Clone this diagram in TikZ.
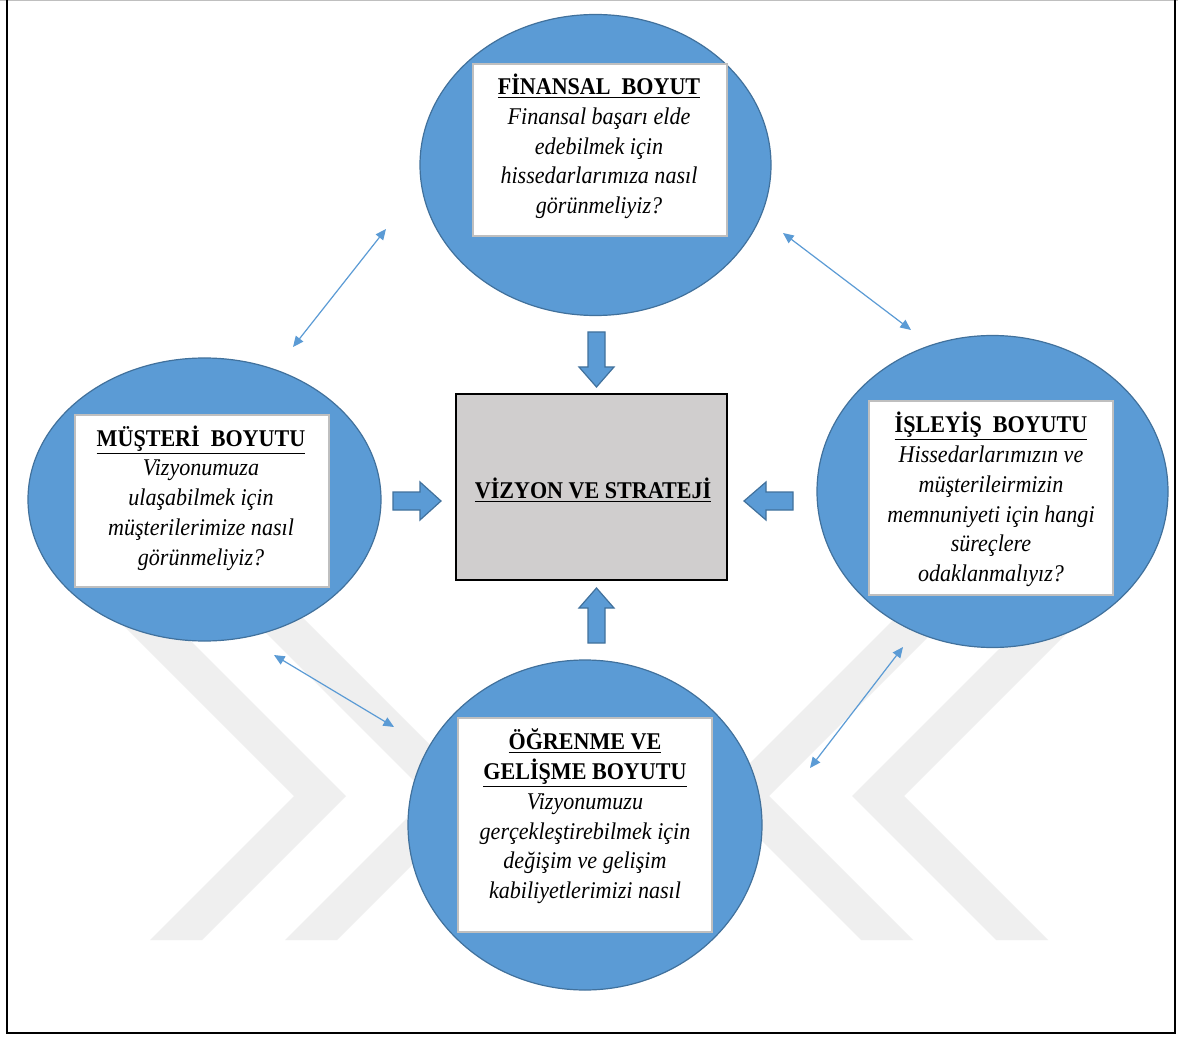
\documentclass[tikz,border=0pt]{standalone}
\usepackage{fontspec}
\setmainfont{Liberation Serif}[FakeStretch=0.92]
\usetikzlibrary{arrows.meta,shapes.geometric}
\definecolor{ellfill}{HTML}{5B9BD5}
\definecolor{elldraw}{HTML}{41719C}
\definecolor{boxgray}{HTML}{D0CECE}
\definecolor{wmark}{HTML}{EFEFEF}
\definecolor{wbord}{HTML}{BFBFBF}
\begin{document}
\begin{tikzpicture}[x=0.75pt,y=-0.75pt,
  ellnode/.style={ellipse,draw=elldraw,fill=ellfill,line width=0.9pt,inner sep=0pt,outer sep=0pt},
  wbox/.style={rectangle,draw=wbord,fill=white,line width=1pt,inner sep=0pt},
  ctext/.style={align=center,inner sep=0pt,font=\fontsize{18}{22.3}\selectfont},
  barrow/.style={fill=ellfill,draw=elldraw,line width=0.9pt,line join=miter},
  dbl/.style={draw=ellfill,line width=0.9pt,{Triangle[length=8pt,width=7pt]}-{Triangle[length=8pt,width=7pt]}},
  wm/.style={fill=wmark}]
\useasboundingbox (0,0) rectangle (1178,1037);
\fill[white] (0,0) rectangle (1178,1037);
% watermark
\fill[wm] (150,940) -- (202,940) -- (346,796) -- (130,580) -- (78,580) -- (294,796) -- cycle;
\fill[wm] (285,940) -- (337,940) -- (481,796) -- (265,580) -- (213,580) -- (429,796) -- cycle;
\fill[wm] (913,940) -- (861,940) -- (717,796) -- (933,580) -- (985,580) -- (769,796) -- cycle;
\fill[wm] (1048,940) -- (996,940) -- (852,796) -- (1068,580) -- (1120,580) -- (904,796) -- cycle;
% frame
\draw[line width=1.2pt,black!25] (0,0.5) -- (1178,0.5);
\draw[line width=1.6pt,black] (7,0) -- (7,1033) -- (1175,1033) -- (1175,0);
% ellipses
\node[ellnode,minimum width=263.25pt,minimum height=225.75pt] (fin) at (595.5,165) {};
\node[ellnode,minimum width=264.75pt,minimum height=212.25pt] (mus) at (204.5,499.5) {};
\node[ellnode,minimum width=263.25pt,minimum height=234pt] (isl) at (992.5,491.5) {};
\node[ellnode,minimum width=265.5pt,minimum height=247.5pt] (ogr) at (585,825) {};
% white boxes
\node[wbox,minimum width=190.5pt,minimum height=129pt] (finb) at (600,150) {};
\node[wbox,minimum width=190.5pt,minimum height=129pt] (musb) at (202,501) {};
\node[wbox,minimum width=183pt,minimum height=145.5pt] (islb) at (991,498) {};
\node[wbox,minimum width=190.5pt,minimum height=160.5pt] (ogrb) at (585,825) {};
% central box
\node[rectangle,draw=black,fill=boxgray,line width=2pt,minimum width=203.25pt,minimum height=139.5pt,inner sep=0pt] (viz) at (591.5,487) {};
\node[ctext] (vizt) at (593,490) {\textbf{\underline{VİZYON VE STRATEJİ}}};
% texts
\node[ctext] (fint) at (599,146.5) {\textbf{\underline{FİNANSAL~~BOYUT}}\\\textit{Finansal başarı elde}\\\textit{edebilmek için}\\\textit{hissedarlarımıza nasıl}\\\textit{görünmeliyiz?}};
\node[ctext] (must) at (201,498) {\textbf{\underline{MÜŞTERİ~~BOYUTU}}\\\textit{Vizyonumuza}\\\textit{ulaşabilmek için}\\\textit{müşterilerimize nasıl}\\\textit{görünmeliyiz?}};
\node[ctext] (islt) at (991,499.5) {\textbf{\underline{İŞLEYİŞ~~BOYUTU}}\\\textit{Hissedarlarımızın ve}\\\textit{müşterileirmizin}\\\textit{memnuniyeti için hangi}\\\textit{süreçlere}\\\textit{odaklanmalıyız?}};
\node[ctext] (ogrt) at (585,816.5) {\textbf{\underline{ÖĞRENME VE}}\\\textbf{\underline{GELİŞME BOYUTU}}\\\textit{Vizyonumuzu}\\\textit{gerçekleştirebilmek için}\\\textit{değişim ve gelişim}\\\textit{kabiliyetlerimizi nasıl}};
% block arrows
\draw[barrow] (588,332) -- (605,332) -- (605,367) -- (614,367) -- (596.5,387) -- (579,367) -- (588,367) -- cycle;
\draw[barrow] (588,643) -- (605,643) -- (605,608) -- (614,608) -- (596.5,588) -- (579,608) -- (588,608) -- cycle;
\draw[barrow] (393,492) -- (420,492) -- (420,482) -- (441,501) -- (420,520) -- (420,510) -- (393,510) -- cycle;
\draw[barrow] (793,492) -- (766,492) -- (766,482) -- (744,501) -- (766,520) -- (766,510) -- (793,510) -- cycle;
% thin double arrows
\coordinate (tl1) at (293,347); \coordinate (tl2) at (386,229);
\coordinate (tr1) at (783,233); \coordinate (tr2) at (911,330);
\coordinate (bl1) at (274,655); \coordinate (bl2) at (394,727);
\coordinate (br1) at (810,768); \coordinate (br2) at (903,647);
\draw[dbl] (tl1) -- (tl2);
\draw[dbl] (tr1) -- (tr2);
\draw[dbl] (bl1) -- (bl2);
\draw[dbl] (br1) -- (br2);
\end{tikzpicture}
\end{document}
